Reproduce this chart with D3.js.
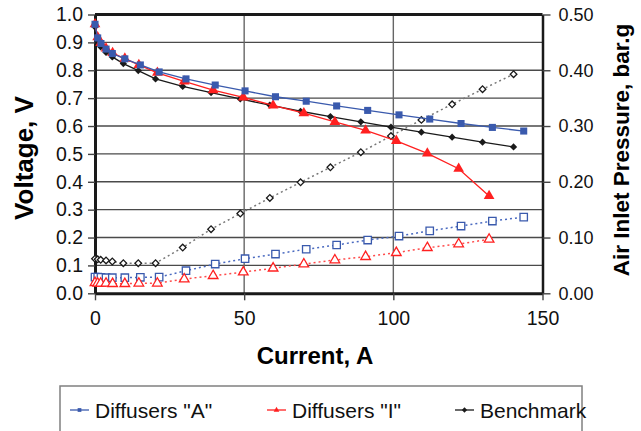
<!DOCTYPE html>
<html>
<head>
<meta charset="utf-8">
<script src="https://cdn.jsdelivr.net/npm/d3@7"></script>
<style>
  body { margin: 0; background: #fff; }
  svg { font-family: "Liberation Sans", Arial, sans-serif; }
</style>
</head>
<body>
<svg id="chart" width="641" height="431"></svg>
<script>
// values
var currentA = [0, 0.9, 2, 3.7, 5.8, 10, 15.2, 21.5, 30.5, 40.3, 50.3, 60.5, 70.8, 81, 91.4, 101.9, 112.2, 122.7, 133.2, 143.7];
var voltageA = [0.965, 0.916, 0.896, 0.876, 0.86, 0.841, 0.819, 0.794, 0.769, 0.747, 0.726, 0.705, 0.689, 0.672, 0.656, 0.640, 0.625, 0.609, 0.595, 0.582];
var pressureA = [0.029, 0.029, 0.0287, 0.028, 0.028, 0.028, 0.0287, 0.029, 0.0405, 0.0525, 0.062, 0.0704, 0.079, 0.0866, 0.0955, 0.1027, 0.112, 0.1206, 0.1296, 0.1367];

var currentI = [0, 0.9, 1.9, 3.7, 5.9, 10, 14.7, 20.9, 29.9, 39.6, 49.7, 59.7, 70, 80.4, 90.7, 101, 111.4, 121.9, 132.1];
var voltageI = [0.965, 0.919, 0.898, 0.878, 0.862, 0.842, 0.819, 0.791, 0.76, 0.729, 0.703, 0.674, 0.646, 0.615, 0.584, 0.547, 0.502, 0.447, 0.349];
var pressureI = [0.019, 0.018, 0.018, 0.018, 0.0172, 0.0172, 0.018, 0.018, 0.0256, 0.0315, 0.038, 0.045, 0.0525, 0.0597, 0.0656, 0.0728, 0.0817, 0.0884, 0.0968];

var currentB = [0, 0.9, 1.9, 3.7, 5.8, 9.5, 14.5, 20.3, 29.4, 38.9, 48.7, 58.6, 68.9, 78.9, 89.1, 99.2, 109.4, 119.7, 129.9, 140.3];
var voltageB = [0.955, 0.908, 0.884, 0.864, 0.848, 0.824, 0.799, 0.769, 0.742, 0.72, 0.697, 0.675, 0.653, 0.634, 0.615, 0.596, 0.578, 0.56, 0.542, 0.525];
var pressureB = [0.062, 0.061, 0.06, 0.059, 0.057, 0.054, 0.054, 0.054, 0.082, 0.115, 0.143, 0.171, 0.199, 0.226, 0.253, 0.282, 0.311, 0.339, 0.366, 0.393];

var xTicks = [0, 50, 100, 150];
var voltTicks = [0, 0.1, 0.2, 0.3, 0.4, 0.5, 0.6, 0.7, 0.8, 0.9, 1.0];
var pressTicks = [0, 0.1, 0.2, 0.3, 0.4, 0.5];
var seriesNames = ['Diffusers "A"', 'Diffusers "I"', 'Benchmark'];

function main() {
    var blue = "#3a5aad", red = "#ff2020", black = "#1a1a1a";

    var svg = d3.select("#chart");
    var left = 95, right = 542.5, plotTop = 14.5, bottom = 293.3;

    var x = d3.scaleLinear().domain([0, 150]).range([left, right]);
    var yV = d3.scaleLinear().domain([0, 1]).range([bottom, plotTop]);
    var yP = d3.scaleLinear().domain([0, 0.5]).range([bottom, plotTop]);

    // grid
    svg.append("g").selectAll("line").data(voltTicks.slice(1, -1)).enter().append("line")
        .attr("x1", left).attr("x2", right)
        .attr("y1", d => yV(d)).attr("y2", d => yV(d))
        .attr("stroke", "#4a4a4a").attr("stroke-width", 1.4);
    svg.append("g").selectAll("line").data([50, 100]).enter().append("line")
        .attr("x1", d => x(d)).attr("x2", d => x(d))
        .attr("y1", plotTop).attr("y2", bottom)
        .attr("stroke", "#666").attr("stroke-width", 1.4);

    // axes
    var xAxis = svg.append("g").attr("transform", "translate(0," + bottom + ")")
        .call(d3.axisBottom(x).tickValues(xTicks).tickSize(7).tickSizeOuter(0).tickPadding(8));
    var yAxis = svg.append("g").attr("transform", "translate(" + left + ",0)")
        .call(d3.axisLeft(yV).tickValues(voltTicks).tickFormat(d3.format(".1f")).tickSize(7).tickSizeOuter(0).tickPadding(5));
    var pAxis = svg.append("g").attr("transform", "translate(" + right + ",0)")
        .call(d3.axisRight(yP).tickValues(pressTicks).tickFormat(d3.format(".2f")).tickSize(8).tickSizeOuter(0).tickPadding(8));

    [xAxis, yAxis, pAxis].forEach(function(a) {
        a.select(".domain").attr("stroke", black).attr("stroke-width", 3);
        a.selectAll(".tick line").attr("stroke", "#444").attr("stroke-width", 1.4);
        a.selectAll(".tick text").attr("fill", "#111").style("font-size", "19.5px");
    });
    xAxis.selectAll(".tick text").attr("dy", "0.85em");
    pAxis.selectAll(".tick text").style("font-size", "18px");
    pAxis.select(".domain").attr("stroke-width", 2.5);

    svg.append("line").attr("x1", left).attr("x2", right).attr("y1", plotTop).attr("y2", plotTop)
        .attr("stroke", black).attr("stroke-width", 3);

    // titles
    svg.append("text").attr("x", 315).attr("y", 364).attr("text-anchor", "middle")
        .style("font-size", "24px").style("font-weight", "bold").text("Current, A");
    svg.append("text").attr("transform", "translate(33,158) rotate(-90)").attr("text-anchor", "middle")
        .style("font-size", "26px").style("font-weight", "bold").text("Voltage, V");
    svg.append("text").attr("transform", "translate(629,150) rotate(-90)").attr("text-anchor", "middle")
        .style("font-size", "22.5px").style("font-weight", "bold").text("Air Inlet Pressure, bar.g");

    // series
    function pts(xs, ys) { return xs.map((d, i) => [d, ys[i]]); }
    var lineV = d3.line().x(d => x(d[0])).y(d => yV(d[1]));
    var lineP = d3.line().x(d => x(d[0])).y(d => yP(d[1]));

    var sqr = d3.symbol().type(d3.symbolSquare);
    var tri = d3.symbol().type(d3.symbolTriangle);

    var series = [
        {xs: currentA, v: voltageA, p: pressureA, color: blue, sym: sqr, rot: 0, size: 50, psize: 55, dot: "#4a6ac0"},
        {xs: currentI, v: voltageI, p: pressureI, color: red, sym: tri, rot: 0, size: 50, psize: 40, dot: "#ff4a4a"},
        {xs: currentB, v: voltageB, p: pressureB, color: black, sym: sqr, rot: 45, size: 26, psize: 22, dot: "#777"}
    ];

    series.forEach(function(s) {
        var pp = pts(s.xs, s.p);
        svg.append("path").attr("d", lineP(pp)).attr("fill", "none")
            .attr("stroke", s.dot).attr("stroke-width", 1.5).attr("stroke-dasharray", "2,3");
        svg.append("g").selectAll("path").data(pp).enter().append("path")
            .attr("transform", d => "translate(" + x(d[0]) + "," + yP(d[1]) + ") rotate(" + s.rot + ")")
            .attr("d", s.sym.size(s.psize)).attr("fill", "#fff")
            .attr("stroke", s.color).attr("stroke-width", 1.3);
    });
    series.slice().reverse().forEach(function(s) {
        var vp = pts(s.xs, s.v);
        svg.append("path").attr("d", lineV(vp)).attr("fill", "none")
            .attr("stroke", s.color).attr("stroke-width", 1.3);
        svg.append("g").selectAll("path").data(vp).enter().append("path")
            .attr("transform", d => "translate(" + x(d[0]) + "," + yV(d[1]) + ") rotate(" + s.rot + ")")
            .attr("d", s.sym.size(s.size)).attr("fill", s.color);
    });

    // legend
    svg.append("rect").attr("x", 60).attr("y", 386).attr("width", 522).attr("height", 70)
        .attr("fill", "none").attr("stroke", "#808080").attr("stroke-width", 1.5);
    var legX = [70, 267, 455];
    var leg = svg.append("g").selectAll("g").data(seriesNames).enter().append("g")
        .attr("transform", (d, i) => "translate(" + legX[i] + ",410)");
    leg.append("line").attr("x1", 0).attr("x2", 19).attr("y1", 0).attr("y2", 0)
        .attr("stroke", (d, i) => series[i].color).attr("stroke-width", 1.3);
    leg.append("path").attr("transform", (d, i) => "translate(9.5,0) rotate(" + series[i].rot + ")")
        .attr("d", (d, i) => series[i].sym.size(14)())
        .attr("fill", (d, i) => series[i].color);
    leg.append("text").attr("x", 25).attr("y", 7.5).style("font-size", "21px").attr("fill", "#111")
        .text(d => d);
}

main();
</script>
</body>
</html>
